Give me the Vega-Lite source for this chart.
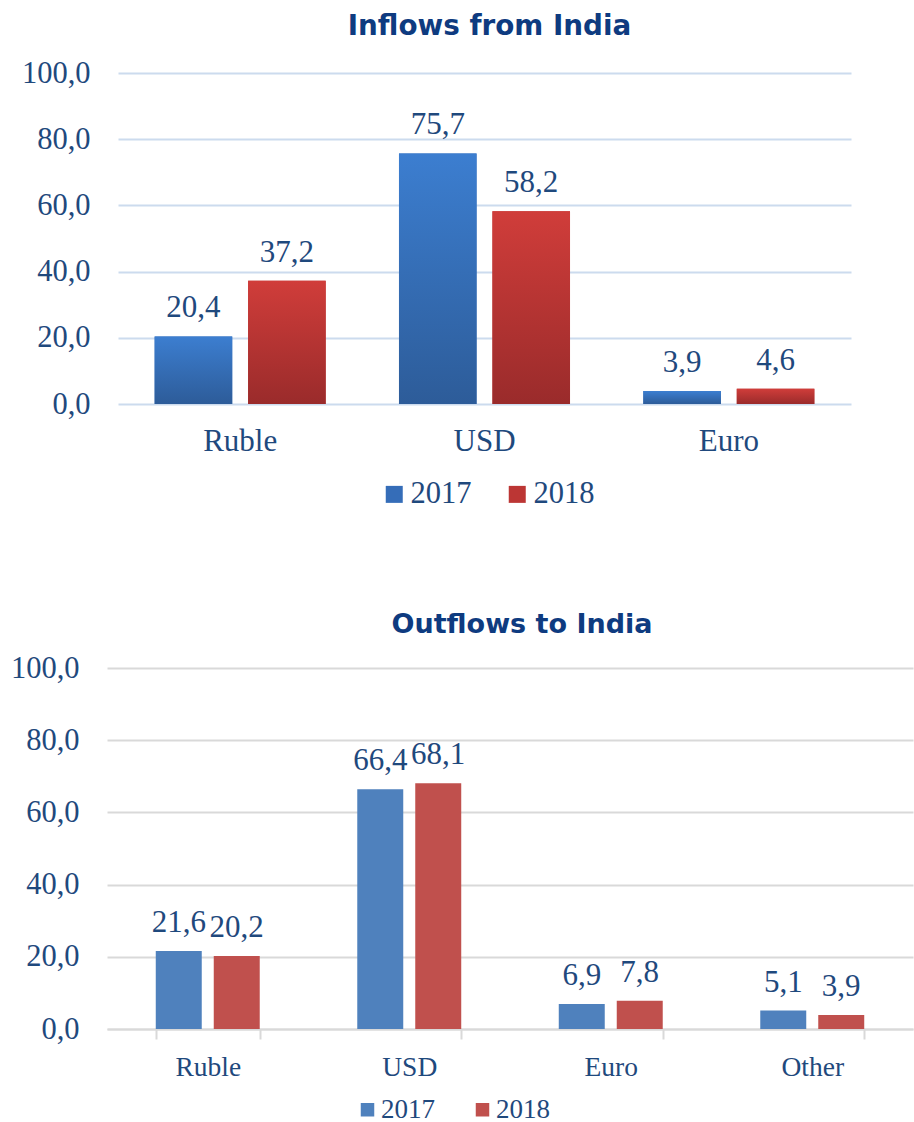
{
  "$schema": "https://vega.github.io/schema/vega-lite/v6.json",
  "padding": {"left": 10, "top": 13, "right": 0, "bottom": 0},
  "spacing": 101,
  "config": {
    "locale": {"number": {"decimal": ",", "thousands": ".", "grouping": [3], "currency": ["", ""]}},
    "view": {"stroke": null},
    "font": "Liberation Serif"
  },
  "vconcat": [
    {
      "title": {"text": "Inflows from India", "font": "DejaVu Sans", "fontWeight": "bold", "fontSize": 27.8, "color": "#0E3B80", "anchor": "middle", "dx": 5, "offset": 17},
      "width": 733,
      "height": 331,
      "data": {"values": [
        {"currency": "Ruble", "year": "2017", "value": 20.4},
        {"currency": "Ruble", "year": "2018", "value": 37.2},
        {"currency": "USD", "year": "2017", "value": 75.7},
        {"currency": "USD", "year": "2018", "value": 58.2},
        {"currency": "Euro", "year": "2017", "value": 3.9},
        {"currency": "Euro", "year": "2018", "value": 4.6}
      ]},
      "encoding": {
        "x": {"field": "currency", "type": "nominal", "sort": ["Ruble", "USD", "Euro"],
          "scale": {"paddingInner": 0.3, "paddingOuter": 0.15},
          "axis": {"title": null, "domain": false, "ticks": false, "tickSize": 0, "labelAngle": 0, "labelFontSize": 31, "labelPadding": 22, "labelColor": "#1F497D", "labelFont": "Liberation Serif", "grid": false}},
        "xOffset": {"field": "year", "type": "nominal", "scale": {"paddingInner": 0.17, "paddingOuter": 0}},
        "y": {"field": "value", "type": "quantitative", "scale": {"domain": [0, 100]},
          "axis": {"title": null, "values": [0, 20, 40, 60, 80, 100], "format": ".1f", "labelFontSize": 30.5, "labelPadding": 28, "domain": false, "ticks": false, "tickSize": 0, "gridColor": "#CCDBEE", "gridWidth": 2, "minExtent": 108, "labelColor": "#1F497D", "labelFont": "Liberation Serif"}}
      },
      "layer": [
        {
          "mark": {"type": "bar"},
          "encoding": {
            "color": {"field": "year", "type": "nominal",
              "scale": {"range": ["#356DB8", "#BC3634"]},
              "legend": {"orient": "none", "legendX": 261, "legendY": 406, "direction": "horizontal", "title": null, "symbolType": "square", "symbolSize": 289, "symbolStrokeWidth": 0, "labelFontSize": 30.5, "labelColor": "#1F497D", "labelFont": "Liberation Serif", "labelOffset": 1, "columnPadding": 30, "padding": 0}}
          }
        },
        {
          "mark": {"type": "bar"},
          "encoding": {
            "fill": {
              "condition": {"test": "datum.year === '2017'", "value": {"gradient": "linear", "x1": 0, "y1": 0, "x2": 0, "y2": 1, "stops": [{"offset": 0, "color": "#3C7ED0"}, {"offset": 1, "color": "#2D5C99"}]}},
              "value": {"gradient": "linear", "x1": 0, "y1": 0, "x2": 0, "y2": 1, "stops": [{"offset": 0, "color": "#D03D3A"}, {"offset": 1, "color": "#9A2B2B"}]}
            }
          }
        },
        {
          "mark": {"type": "text", "baseline": "alphabetic", "dy": -19, "fontSize": 31, "color": "#1F497D", "font": "Liberation Serif"},
          "encoding": {"text": {"field": "value", "type": "quantitative", "format": ".1f"}}
        }
      ]
    },
    {
      "title": {"text": "Outflows to India", "font": "DejaVu Sans", "fontWeight": "bold", "fontSize": 27, "color": "#0E3B80", "anchor": "middle", "dx": 1, "offset": 14},
      "width": 806,
      "height": 361,
      "data": {"values": [
        {"currency": "Ruble", "year": "2017", "value": 21.6},
        {"currency": "Ruble", "year": "2018", "value": 20.2},
        {"currency": "USD", "year": "2017", "value": 66.4},
        {"currency": "USD", "year": "2018", "value": 68.1},
        {"currency": "Euro", "year": "2017", "value": 6.9},
        {"currency": "Euro", "year": "2018", "value": 7.8},
        {"currency": "Other", "year": "2017", "value": 5.1},
        {"currency": "Other", "year": "2018", "value": 3.9}
      ]},
      "encoding": {
        "x": {"field": "currency", "type": "nominal", "sort": ["Ruble", "USD", "Euro", "Other"],
          "scale": {"range": [-11, 795], "paddingInner": 0.484, "paddingOuter": 0.242},
          "axis": {"title": null, "domain": true, "domainColor": "#D9D9D9", "domainWidth": 2, "ticks": true, "tickBand": "extent", "tickColor": "#D9D9D9", "tickWidth": 2, "tickSize": 10, "labelAngle": 0, "labelFontSize": 27.5, "labelPadding": 14, "labelColor": "#1F497D", "labelFont": "Liberation Serif", "grid": false}},
        "xOffset": {"field": "year", "type": "nominal", "scale": {"paddingInner": 0.207, "paddingOuter": 0}},
        "y": {"field": "value", "type": "quantitative", "scale": {"domain": [0, 100]},
          "axis": {"title": null, "offset": 11, "values": [0, 20, 40, 60, 80, 100], "format": ".1f", "labelFontSize": 30.5, "labelPadding": 28, "domain": false, "ticks": false, "tickSize": 0, "gridColor": "#D9D9D9", "gridWidth": 2, "minExtent": 97, "labelColor": "#1F497D", "labelFont": "Liberation Serif"}}
      },
      "layer": [
        {
          "mark": {"type": "bar"},
          "encoding": {
            "color": {"field": "year", "type": "nominal",
              "scale": {"range": ["#4F81BD", "#C0504D"]},
              "legend": {"orient": "none", "legendX": 236, "legendY": 428, "direction": "horizontal", "title": null, "symbolType": "square", "symbolSize": 182, "symbolStrokeWidth": 0, "labelFontSize": 27, "labelColor": "#1F497D", "labelFont": "Liberation Serif", "labelOffset": 0, "columnPadding": 34, "padding": 0}}
          }
        },
        {
          "mark": {"type": "text", "baseline": "alphabetic", "dy": -19, "fontSize": 31, "color": "#1F497D", "font": "Liberation Serif"},
          "encoding": {"text": {"field": "value", "type": "quantitative", "format": ".1f"}}
        }
      ]
    }
  ],
  "resolve": {
    "scale": {"color": "independent", "x": "independent", "y": "independent", "xOffset": "independent"},
    "legend": {"color": "independent"},
    "axis": {"x": "independent", "y": "independent"}
  }
}
